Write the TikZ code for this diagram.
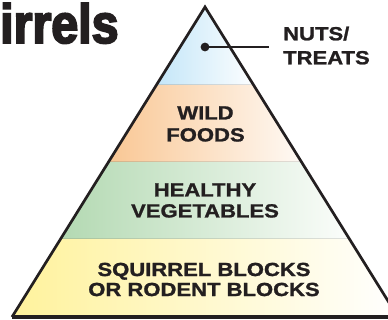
\documentclass[tikz,border=0pt]{standalone}
\usepackage{fontspec}
\newfontfamily\labelfont{Liberation Sans Bold}[FakeStretch=1.16,FakeBold=1.2]
\newfontfamily\titlefont{Liberation Sans Bold}[FakeStretch=0.88,FakeBold=3.5]
\definecolor{ink}{HTML}{231F20}
\definecolor{cblue}{HTML}{C4E6F8}
\definecolor{corange}{HTML}{F9C794}
\definecolor{cgreen}{HTML}{B3D9B2}
\definecolor{cyellow}{HTML}{FFF29C}
\tikzset{
  band/.style={draw=none},
  lbl/.style={inner sep=0pt, text=ink, align=center, font=\labelfont\fontsize{19}{#1}\selectfont},
  edge/.style={draw=ink, line width=2.7pt, line join=miter},
}
\begin{document}
\begin{tikzpicture}[x=1pt,y=-1pt]
\useasboundingbox (0,0) rectangle (388,320);
\fill[white] (0,0) rectangle (388,320);
\begin{scope}
\clip (0,0) rectangle (388,320);
% pyramid corners
\coordinate (apex) at (205,7);
\coordinate (bl) at (12,317);
\coordinate (br) at (398,317);
% bands
\fill[band, left color=cblue, right color=cblue!5!white] (apex) -- (156.4,85) -- (253.6,85) -- cycle;
\fill[band, left color=corange, right color=corange!10!white] (156.4,85) -- (108.5,162) -- (301.5,162) -- (253.6,85) -- cycle;
\fill[band, left color=cgreen, right color=cgreen!5!white] (108.5,162) -- (60.6,239) -- (349.4,239) -- (301.5,162) -- cycle;
\fill[band, left color=cyellow, right color=white] (60.6,239) -- (bl) -- (br) -- (349.4,239) -- cycle;
% outline
\draw[edge] (bl) -- (apex) -- (br);
\draw[draw=ink, line width=3.2pt] (bl) -- (br);
\end{scope}
% title
\node[anchor=base west, inner sep=0pt, text=ink, font=\titlefont\fontsize{55}{60}\selectfont] (title) at (0,43) {irrels};
% labels
\node[lbl=22] (wild) at (205.5,124) {WILD\\FOODS};
\node[lbl=21] (veg) at (205,200.5) {HEALTHY\\VEGETABLES};
\node[lbl=20] (blocks) at (204,279.5) {SQUIRREL BLOCKS\\OR RODENT BLOCKS};
\node[lbl=24, align=left, anchor=west] (nuts) at (283,45.5) {NUTS/\\TREATS};
% pointer
\coordinate (dot) at (205,47);
\coordinate (lineend) at (269,47);
\fill[ink] (dot) circle[radius=4.4];
\draw[draw=ink, line width=2.2pt] (dot) -- (lineend);
\end{tikzpicture}
\end{document}
